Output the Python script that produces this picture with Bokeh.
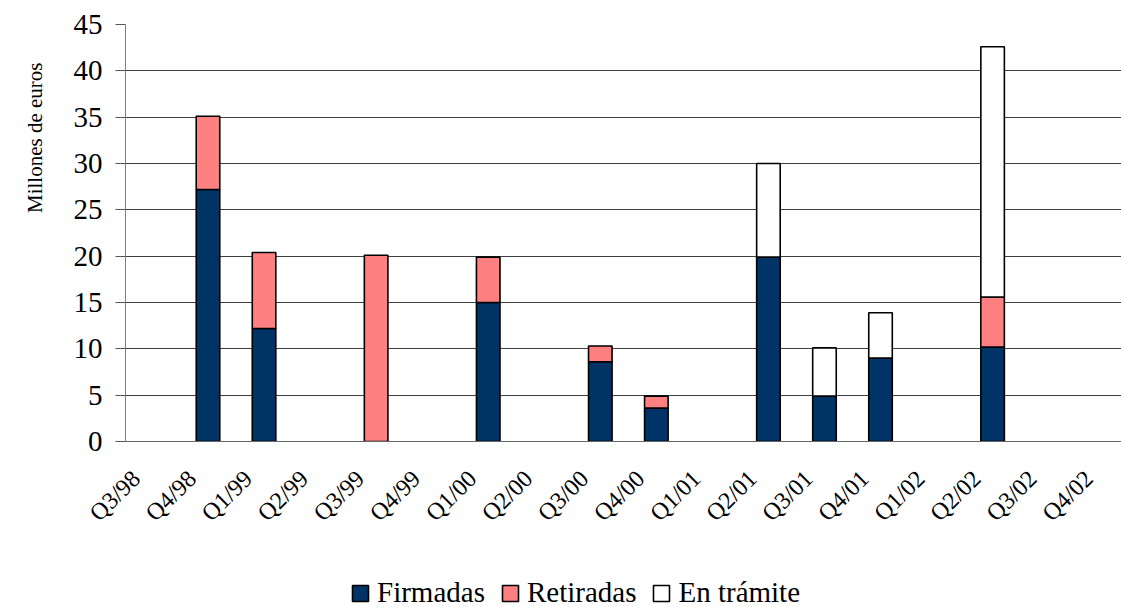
import math
from bokeh.plotting import figure
from bokeh.layouts import column
from bokeh.models import (ColumnDataSource, Range1d, FixedTicker, Legend, LegendItem, Title)
from bokeh.embed import file_html
from bokeh.resources import INLINE

quarters = ["Q3/98", "Q4/98", "Q1/99", "Q2/99", "Q3/99", "Q4/99", "Q1/00", "Q2/00", "Q3/00",
            "Q4/00", "Q1/01", "Q2/01", "Q3/01", "Q4/01", "Q1/02", "Q2/02", "Q3/02", "Q4/02"]
firmadas   = [0, 27.2, 12.2, 0, 0,    0, 15.0, 0, 8.6, 3.6, 0, 19.9, 4.9, 9.0, 0, 10.2, 0, 0]
retiradas  = [0, 7.9,  8.2,  0, 20.1, 0, 4.9,  0, 1.7, 1.3, 0, 0,    0,   0,   0, 5.4,  0, 0]
en_tramite = [0, 0,    0,    0, 0,    0, 0,    0, 0,   0,   0, 10.1, 5.2, 4.9, 0, 27.0, 0, 0]

series_names = ["Firmadas", "Retiradas", "En trámite"]
series_colors = ["#003366", "#FF8080", "#FFFFFF"]

FONT = "Liberation Serif"

p = figure(width=1121, height=547, output_backend="svg", toolbar_location=None,
           x_range=Range1d(-0.472, 17.30), y_range=Range1d(0, 45),
           min_border_left=125, min_border_right=0, min_border_top=24, min_border_bottom=106)
p.outline_line_color = None
p.background_fill_color = "white"

# legend strip below the chart (its own figure, no axes)
lg = figure(width=1121, height=60, output_backend="svg", toolbar_location=None,
            x_range=Range1d(0, 1), y_range=Range1d(0, 1),
            x_axis_location=None, y_axis_location=None,
            min_border_left=0, min_border_right=0, min_border_top=0, min_border_bottom=0)
lg.outline_line_color = None
lg.grid.visible = False

items = []
bottoms = [0.0] * len(quarters)
for name, vals, col in zip(series_names, [firmadas, retiradas, en_tramite], series_colors):
    xs, b, t = [], [], []
    for i, v in enumerate(vals):
        if v > 0:
            xs.append(i)
            b.append(bottoms[i])
            t.append(bottoms[i] + v)
    data = dict(x=xs, bottom=b, top=t)
    p.vbar(x="x", bottom="bottom", top="top", width=0.42, source=ColumnDataSource(data),
           fill_color=col, line_color="black", line_width=1.6)
    # same series in the legend strip, hidden; used only for the legend swatch
    r = lg.vbar(x="x", bottom="bottom", top="top", width=0.42, source=ColumnDataSource(dict(data)),
                fill_color=col, line_color="black", line_width=1.6, visible=False)
    items.append(LegendItem(label=name, renderers=[r]))
    bottoms = [bottoms[i] + vals[i] for i in range(len(quarters))]

# y axis
p.yaxis.ticker = FixedTicker(ticks=list(range(0, 46, 5)))
p.yaxis.major_label_text_font = FONT
p.yaxis.major_label_text_font_size = "29px"
p.yaxis.major_label_text_color = "black"
p.yaxis.axis_line_color = "#808080"
p.yaxis.major_tick_line_color = "#555555"
p.yaxis.major_tick_out = 10
p.yaxis.major_tick_in = 0
p.yaxis.minor_tick_line_color = None
p.yaxis.major_label_standoff = 13

# x axis: rotated labels sit slightly left of each category centre (as in the source chart)
label_shift = -0.285
xticks = [i + label_shift for i in range(len(quarters))]
p.xaxis.ticker = FixedTicker(ticks=xticks)
p.xaxis.major_label_overrides = {t: q for t, q in zip(xticks, quarters)}
p.xaxis.major_label_orientation = math.pi / 4
p.xaxis.major_label_text_font = FONT
p.xaxis.major_label_text_font_size = "24px"
p.xaxis.major_label_text_color = "black"
p.xaxis.axis_line_color = "#666666"
p.xaxis.major_tick_line_color = None
p.xaxis.minor_tick_line_color = None
p.xaxis.major_label_standoff = 27

p.xgrid.grid_line_color = None
p.ygrid.grid_line_color = "#404040"
p.ygrid.grid_line_width = 1

# y title in the left panel
ytitle = Title(text="Millones de euros", align="right", offset=38, standoff=43,
               vertical_align="top",
               text_font=FONT, text_font_size="21px", text_font_style="normal",
               text_color="black")
p.add_layout(ytitle, "left")

legend = Legend(items=items, orientation="horizontal", location=(225, -2),
                label_text_font=FONT, label_text_font_size="29px", label_text_color="black",
                glyph_width=20, glyph_height=20, label_standoff=7, spacing=15,
                padding=0, margin=0, border_line_color=None,
                background_fill_alpha=0, inactive_fill_alpha=0)
lg.add_layout(legend, "center")

layout = column(p, lg, spacing=0)
open("out.html", "w").write(file_html(layout, INLINE))
